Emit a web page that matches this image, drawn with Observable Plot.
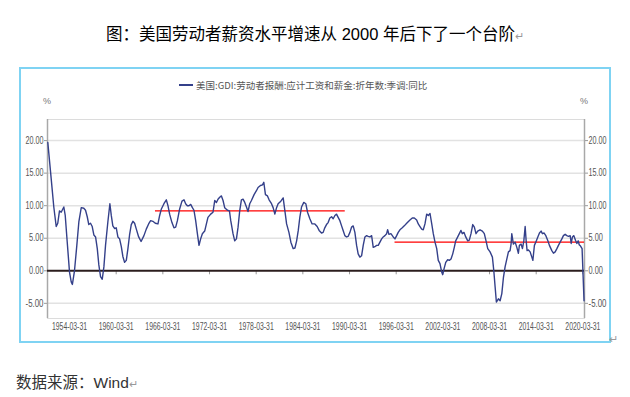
<!DOCTYPE html>
<html><head><meta charset="utf-8">
<script src="https://cdn.jsdelivr.net/npm/d3@7"></script>
<script src="https://cdn.jsdelivr.net/npm/@observablehq/plot@0.6"></script>
<style>
html,body{margin:0;padding:0;background:#fff;width:630px;height:397px;overflow:hidden;position:relative;font-family:"Liberation Sans","Noto Sans CJK SC",sans-serif;}
#title{position:absolute;left:0;width:630px;top:21px;text-align:center;font-size:16.5px;color:#000;white-space:nowrap;}
.ret{color:#999;font-size:11px;}
#frame{position:absolute;left:19px;top:67px;width:588px;height:272px;border:2px solid #7fd3f3;}
#legend{position:absolute;top:78px;left:179px;font-size:9.5px;color:#555;font-family:"Noto Sans CJK SC",sans-serif;white-space:nowrap;display:flex;align-items:center;}
#legend .sw{display:inline-block;width:14px;height:2px;background:#34408a;margin-right:3px;}
.pct{position:absolute;top:96px;font-size:9px;color:#777;}
#chart{position:absolute;left:0;top:90px;}
#src{position:absolute;left:16px;top:370px;font-size:15.5px;color:#333;white-space:nowrap;}
#ret2{position:absolute;left:609px;top:333px;}
</style></head>
<body>
<div id="title">图：美国劳动者薪资水平增速从 2000 年后下了一个台阶<span class="ret">↵</span></div>
<div id="frame"></div>
<div id="legend"><span class="sw"></span><span id="legtext"></span></div>
<div class="pct" style="left:43px">%</div>
<div class="pct" style="left:580px">%</div>
<div id="chart"></div>
<div id="src">数据来源：Wind<span class="ret">↵</span></div>
<div id="ret2" class="ret">↵</div>
<script>
const seriesName = "美国:GDI:劳动者报酬:应计工资和薪金:折年数:季调:同比";
const dates = [
1951.46,1951.89,1952.23,1952.54,1952.74,1952.96,1953.18,1953.39,1953.52,1953.70,
1953.95,1954.25,1954.47,1954.62,1954.89,1955.19,1955.45,1955.76,1956.09,1956.31,
1956.53,1956.73,1956.95,1957.17,1957.38,1957.60,1957.82,1958.02,1958.24,1958.46,
1958.67,1958.88,1959.18,1959.44,1959.62,1959.82,1960.04,1960.26,1960.47,1960.69,
1960.91,1961.11,1961.33,1961.55,1961.76,1961.97,1962.19,1962.40,1962.62,1962.84,
1963.14,1963.45,1963.82,1964.12,1964.42,1964.68,1964.97,1965.28,1965.62,1965.84,
1966.06,1966.39,1966.70,1966.91,1967.12,1967.42,1967.68,1967.90,1968.12,1968.41,
1968.71,1968.97,1969.18,1969.40,1969.61,1969.83,1970.05,1970.25,1970.47,1970.69,
1970.90,1971.11,1971.33,1971.63,1971.85,1972.05,1972.40,1972.70,1972.92,1973.14,
1973.34,1973.56,1973.78,1973.99,1974.20,1974.55,1974.81,1974.98,1975.27,1975.49,
1975.71,1975.92,1976.13,1976.35,1976.56,1976.78,1977.00,1977.20,1977.42,1977.64,
1977.98,1978.28,1978.49,1978.80,1979.06,1979.23,1979.44,1979.70,1979.91,1980.22,
1980.43,1980.65,1980.87,1981.07,1981.42,1981.72,1981.94,1982.16,1982.46,1982.71,
1983.01,1983.23,1983.45,1983.66,1983.86,1984.08,1984.37,1984.63,1984.85,1985.15,
1985.44,1985.79,1986.09,1986.34,1986.65,1986.86,1987.07,1987.29,1987.50,1987.72,
1987.94,1988.15,1988.37,1988.58,1988.79,1989.01,1989.23,1989.43,1989.65,1989.87,
1990.08,1990.30,1990.51,1990.72,1990.94,1991.16,1991.36,1991.58,1991.80,1992.01,
1992.23,1992.45,1992.65,1992.87,1993.09,1993.30,1993.51,1993.73,1993.94,1994.16,
1994.38,1994.58,1994.80,1995.02,1995.15,1995.32,1995.57,1995.87,1996.09,1996.31,
1996.51,1996.73,1997.03,1997.29,1997.60,1998.02,1998.32,1998.58,1998.88,1999.09,
1999.31,1999.53,1999.73,1999.95,2000.17,2000.38,2000.60,2000.82,2001.02,2001.24,
2001.46,2001.66,2001.88,2002.10,2002.23,2002.40,2002.62,2002.87,2003.08,2003.30,
2003.52,2003.72,2003.90,2004.16,2004.37,2004.58,2004.75,2004.97,2005.19,2005.45,
2005.65,2005.87,2006.09,2006.30,2006.51,2006.73,2007.03,2007.33,2007.58,2007.80,
2008.02,2008.32,2008.62,2008.80,2008.97,2009.13,2009.39,2009.61,2009.83,2010.04,
2010.25,2010.47,2010.68,2010.89,2011.02,2011.11,2011.32,2011.54,2011.76,2011.96,
2012.09,2012.31,2012.48,2012.66,2012.83,2012.96,2013.08,2013.25,2013.47,2013.69,
2013.82,2014.02,2014.20,2014.46,2014.67,2014.88,2015.05,2015.27,2015.49,2015.75,
2015.95,2016.26,2016.47,2016.69,2016.91,2017.11,2017.33,2017.55,2017.75,2017.97,
2018.19,2018.40,2018.62,2018.75,2018.91,2019.09,2019.30,2019.48,2019.65,2019.78,
2019.95,2020.15,2020.40
];
const values = [
19.7,14.2,9.8,6.8,7.3,9.2,9.0,9.5,9.8,8.5,
4.5,-0.2,-1.7,-2.1,0.0,3.9,7.5,9.7,9.6,9.3,
8.3,7.1,7.3,6.8,5.5,5.2,3.4,0.9,-0.9,-1.3,
0.6,3.9,7.5,10.3,8.5,6.9,6.5,6.6,5.2,4.9,
3.7,2.2,1.3,1.6,3.4,5.5,7.1,7.6,7.3,6.4,
5.2,4.5,5.4,6.4,7.2,7.7,7.6,7.3,7.2,8.5,
9.5,10.3,10.9,10.0,8.7,7.4,6.6,6.7,7.7,9.5,
10.7,10.9,10.3,10.0,10.0,10.2,9.7,9.3,7.7,5.7,
3.9,4.9,5.7,6.1,7.2,8.2,8.7,9.0,10.8,10.5,
11.0,11.3,11.5,10.8,9.7,9.3,9.2,7.7,5.7,4.6,
4.9,6.7,9.2,10.9,11.0,10.5,9.8,9.1,10.3,10.8,
11.7,12.3,12.8,13.1,13.2,13.6,11.7,11.5,10.9,10.3,
9.7,8.7,9.7,10.3,10.7,11.2,9.2,7.2,5.9,4.4,
3.4,3.5,4.6,6.2,8.2,9.8,10.5,10.3,9.0,8.0,
7.2,7.2,6.8,6.2,5.8,5.9,6.6,7.1,7.4,8.1,
8.3,8.0,8.5,8.7,8.2,7.7,6.9,6.2,5.4,5.2,
5.3,5.9,6.7,6.9,5.9,3.9,2.6,2.1,2.3,3.9,
5.2,5.4,5.3,5.2,5.4,3.6,3.7,3.9,3.9,4.4,
4.9,5.2,5.4,5.7,6.3,5.6,5.7,5.2,4.9,5.4,
5.9,6.3,6.6,6.9,7.3,7.8,8.1,8.1,7.8,7.2,
6.8,6.4,6.3,7.2,8.7,8.5,8.8,7.2,5.7,4.4,
3.4,1.6,1.1,-0.2,-0.6,0.3,1.3,1.7,1.6,1.8,
2.6,3.6,4.6,5.2,5.7,6.2,5.7,5.9,5.2,4.6,
4.7,5.7,7.1,6.7,5.7,6.1,6.3,6.1,5.7,4.6,
3.4,2.9,2.1,0.0,-2.5,-4.8,-4.3,-4.6,-3.5,-1.0,
0.6,1.8,2.9,3.1,4.1,5.7,4.1,4.4,3.6,2.7,
3.9,4.1,3.4,4.6,6.8,4.6,3.1,3.2,2.9,2.1,
1.6,3.9,4.4,5.2,5.8,6.1,5.7,5.8,5.4,4.6,
3.9,3.1,2.7,2.9,3.4,3.9,4.4,4.9,5.4,5.6,
5.4,5.3,5.4,4.2,5.2,5.4,4.7,4.2,4.6,4.0,
3.8,3.4,-4.6
];
const xTickLabels = ["1954-03-31","1960-03-31","1966-03-31","1972-03-31","1978-03-31","1984-03-31","1990-03-31","1996-03-31","2002-03-31","2008-03-31","2014-03-31","2020-03-31"];
const yTickValues = [-5, 0, 5, 10, 15, 20];
const xDomain = [1951.42, 2020.46];
const yDomain = [-7.33, 23.24];
const refStart = [1965.3, 1996.1];
const refEnd = [1989.7, 2020.46];
const refLevel = [9.2, 4.4];

document.getElementById("legtext").textContent = seriesName;

const data = dates.map((t, i) => ({t, v: values[i]}));
const xTickVals = xTickLabels.map(s => +s.slice(0, 4) + 0.25);
const labelOf = new Map(xTickVals.map((v, i) => [v, xTickLabels[i]]));
const refs = refStart.map((s, i) => ({s, e: refEnd[i], y: refLevel[i]}));
const gridVals = yTickValues.filter(v => v !== 0);

const chart = Plot.plot({
  width: 630, height: 255,
  marginLeft: 47, marginRight: 46, marginTop: 29, marginBottom: 27,
  style: {fontFamily: '"Liberation Sans",sans-serif', fontSize: "10px", color: "#555", background: "transparent"},
  x: {type: "linear", domain: xDomain},
  y: {domain: yDomain},
  marks: [
    Plot.frame({stroke: "#dcdcdc"}),
    Plot.gridY(gridVals, {stroke: "#e2e2e2", strokeOpacity: 1, strokeWidth: 1.5}),
    Plot.axisY(yTickValues, {anchor: "left", tickFormat: d => d.toFixed(2), tickSize: 3, tickPadding: 1, stroke: "#999", label: null}),
    Plot.axisY(yTickValues, {anchor: "right", tickFormat: d => d.toFixed(2), tickSize: 3, tickPadding: 1, stroke: "#999", label: null}),
    Plot.axisX(xTickVals, {anchor: "bottom", tickFormat: d => labelOf.get(d), tickSize: 0, tickPadding: 4, label: null}),
    Plot.ruleX(xDomain, {stroke: "#a8a8a8", strokeWidth: 1.5}),
    Plot.ruleX(xTickVals, {y1: 0, y2: 0, insetBottom: -4, stroke: "#999"}),
    Plot.ruleY(refs, {y: "y", x1: "s", x2: "e", stroke: "#ff0000", strokeWidth: 1.3}),
    Plot.ruleY([0], {stroke: "#2b1d1d", strokeWidth: 2}),
    Plot.line(data, {x: "t", y: "v", stroke: "#34408a", strokeWidth: 1.4})
  ]
});
// condense the tick labels to the narrow face used in the original
chart.querySelectorAll('g[aria-label="x-axis tick label"] text').forEach(t => {
  t.setAttribute("textLength", 35); t.setAttribute("lengthAdjust", "spacingAndGlyphs");
});
chart.querySelectorAll('g[aria-label="y-axis tick label"] text').forEach(t => {
  const n = t.textContent.length;
  t.setAttribute("textLength", n * 3.6); t.setAttribute("lengthAdjust", "spacingAndGlyphs");
});
document.getElementById("chart").appendChild(chart);
</script>
</body></html>
